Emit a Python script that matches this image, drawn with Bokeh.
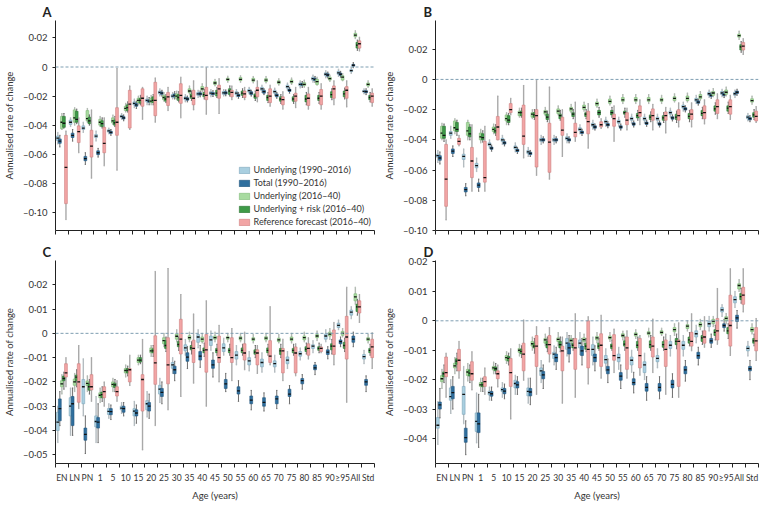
from bokeh.plotting import figure
from bokeh.layouts import column, row
from bokeh.models import (ColumnDataSource, Span, FixedTicker, CustomJSTickFormatter,
                          Legend, LegendItem, Range1d)
from bokeh.embed import file_html
from bokeh.resources import INLINE

FONT = "Lato"
FS = "9.5px"
XFS = "8.5px"

AGES = ["EN", "LN", "PN", "1", "5", "10", "15", "20", "25", "30", "35", "40", "45", "50",
        "55", "60", "65", "70", "75", "80", "85", "90", "\u226595", "All", "Std"]
SERIES = ["Underlying (1990\u20132016)", "Total (1990\u20132016)", "Underlying (2016\u201340)",
          "Underlying + risk (2016\u201340)", "Reference forecast (2016\u201340)"]

# each entry: (low whisker, Q1, median, Q3, high whisker), in units of 0.001
A_ul = [(-53,-50.5,-49,-47.5,-45),(-41,-39.5,-38,-36.5,-35),(-45,-43,-42,-40.5,-38),(-51,-48.5,-47.5,-46.5,-44),(-46,-44.8,-44,-43.2,-42),(-36,-34.8,-34,-33.2,-32),(-28,-26,-25,-24,-22),(-26,-24,-23,-22,-20),(-20,-18.5,-17.5,-16.5,-15),(-22,-20.8,-20,-19,-17.5),(-24,-22.5,-21.5,-20.5,-19),(-21,-19.5,-18.5,-17.5,-16),(-20.5,-19,-18,-17,-15.5),(-20,-18.8,-17.8,-16.8,-15.5),(-20.5,-19,-18,-17,-15.5),(-18.5,-17.3,-16.3,-15.3,-14),(-17.5,-16,-15,-14,-12.5),(-19.5,-18,-17,-16,-14.5),(-16,-14.5,-13.5,-12.5,-11),(-14.5,-13,-12,-11,-9.5),(-10.5,-9,-8,-7,-5.5),(-7.5,-6,-5,-4,-2.5),(-6.5,-5,-4,-3,-1.5),(-4.5,-3.2,-2.5,-1.8,-0.5),(-18.5,-17.3,-16.7,-16.1,-15)]
A_tot = [(-55,-52.5,-51,-49.5,-47),(-51,-48.5,-47,-45.5,-43),(-67,-64.5,-63,-61.5,-59),(-62,-60.3,-59,-57.7,-56),(-47,-45.8,-45,-44.2,-43),(-37,-35.8,-35,-34.2,-33),(-28.5,-27,-26,-25,-23.5),(-26,-24.3,-23.5,-22.7,-21),(-20,-18.8,-18,-17.2,-16),(-22,-20.5,-19.5,-18.5,-17),(-24,-22.8,-22,-21.2,-20),(-20.5,-19.3,-18.5,-17.7,-16.5),(-20.3,-19.1,-18.3,-17.5,-16.3),(-19.8,-18.6,-17.8,-17,-15.8),(-21.5,-20.3,-19.5,-18.7,-17.5),(-20,-19,-18,-17,-16),(-19,-18,-17,-16,-15),(-21.5,-20.5,-19.5,-18.5,-17.5),(-18,-16.8,-16,-15.2,-14),(-14,-12.8,-12,-11.2,-10),(-10.5,-9.3,-8.5,-7.7,-6.5),(-7.5,-6.3,-5.5,-4.7,-3.5),(-7,-5.8,-5,-4.2,-3),(-0.5,0.6,1.2,1.8,3),(-19,-17.7,-17,-16.3,-15)]
A_uf = [(-43,-42.5,-38,-34,-32),(-40,-38,-35,-29.5,-28),(-38,-37,-35.5,-30,-28.5),(-41,-40,-38,-36,-34),(-39.5,-38.5,-37,-35,-33),(-31,-30,-28.5,-27,-25),(-26,-24.5,-23,-21.5,-20),(-26,-24.5,-23.5,-21.5,-19.5),(-23.5,-22.5,-21,-19.5,-17.5),(-22.5,-21.5,-20,-18.5,-16.5),(-18.5,-17.5,-16.5,-15,-13),(-17,-15.8,-15,-13.5,-11.5),(-13,-12,-11,-10,-8.5),(-10.5,-9.3,-8.5,-7.7,-6.3),(-10.5,-9.3,-8.5,-7.3,-6),(-11,-9.8,-9,-7.8,-6.5),(-11,-10,-9,-8,-6.5),(-12.5,-11.5,-10.5,-9.5,-8),(-12,-11,-10,-9,-7.5),(-14,-12.8,-12,-10.8,-9),(-12.5,-12,-10,-8.5,-7),(-10,-9,-8,-7,-5.5),(-9.5,-9,-7,-6,-4.5),(19.5,20.8,22,23.2,25),(-14,-13,-12,-11,-9.5)]
A_ur = [(-42,-41.5,-38.7,-34,-32),(-39,-38,-36,-30.5,-29),(-40,-39,-37,-34.5,-33),(-42,-41,-39,-37,-35),(-41,-40,-38.5,-36.5,-34),(-31,-30,-28,-26,-24),(-26,-25,-23,-21.5,-19.5),(-26,-24.5,-23,-20.5,-19),(-24.5,-23.5,-22,-20.5,-19),(-24,-23,-21,-19,-17),(-23,-21.5,-20,-18.5,-16.5),(-22,-20.5,-19,-17.5,-15.5),(-21,-20,-18,-16,-14),(-20,-19,-16.5,-15,-13),(-21,-19.5,-18,-16.5,-15),(-23,-21.5,-20,-18.5,-16.5),(-24.5,-23,-21,-19.5,-17.5),(-25,-23.5,-22,-20.5,-19),(-25,-23.5,-22,-20.5,-19),(-26,-24,-22,-19.5,-17.5),(-25,-23,-21.5,-19.5,-17.5),(-22.5,-21,-19,-17,-15),(-22,-20.5,-18.5,-16.5,-14.5),(11.5,13,15,17,18.5),(-24,-22.5,-21,-19.5,-17.5)]
A_ref = [(-105,-94,-69,-47,-44),(-59,-52,-44.5,-40.5,-35),(-76.5,-62,-54.5,-43.5,-29.5),(-68,-59,-52.5,-41.5,-35),(-71,-47,-38,-28,-1),(-43,-42,-25.5,-16,-13),(-36,-27,-21.5,-15,-14),(-38,-33.5,-23,-10.5,-7.5),(-30,-26.5,-20.5,-17.5,-14),(-35,-25,-19.5,-11.5,-7),(-29.5,-26,-21.5,-16,-9.5),(-32.5,-22.5,-19.5,-14,-0.5),(-32,-21.5,-15,-12.5,-8),(-22.5,-20.5,-17.5,-16,-13),(-22.5,-21,-18.5,-16.5,-14),(-24,-20.5,-16,-14,-9.5),(-27,-24.5,-20,-15,-12.5),(-29,-26,-22.5,-20.5,-17),(-28,-23.5,-20,-18,-14),(-29,-26.5,-21.5,-18.5,-14),(-29,-26,-20,-15.5,-11.5),(-26,-21.5,-15,-13,-9.5),(-27.5,-21.5,-16,-13.5,-9.5),(11,13,16,18,20.5),(-27,-24.5,-20,-18,-15)]

B_ul = [(-55,-51.5,-50.5,-49.5,-47),(-39,-37,-35.5,-34.5,-31),(-58,-53,-51,-49.5,-46),(-61,-58.5,-57,-55.5,-52),(-45.5,-44,-43,-42,-40),(-43,-41,-40,-39,-37),(-48,-46,-45,-44,-42),(-51,-49,-48,-47,-45),(-43,-41,-40,-39,-37),(-43,-41,-40,-39,-37),(-42,-40,-39,-38,-36),(-36,-34,-33,-32,-30),(-33,-31,-30,-29,-27),(-31,-29,-28,-27,-25),(-31,-29,-28,-27,-25),(-29,-27,-26,-25,-23),(-29,-27,-26,-25,-23),(-29,-27,-26,-25,-23),(-25,-23,-22,-21,-19),(-21,-19,-18,-17,-15),(-16,-14.5,-13.5,-12.5,-10.5),(-12,-10.5,-9.5,-8.5,-7),(-11.5,-10,-9,-8,-6.5),(-12,-10.5,-9.5,-8.5,-7),(-27.5,-26,-25,-24,-22.5)]
B_tot = [(-56,-53.5,-52,-50.5,-48),(-51,-49,-47.5,-46,-44),(-77,-74.5,-73,-71.5,-69),(-74,-71.5,-70,-68.5,-66),(-47.5,-46.3,-45.5,-44.7,-43.5),(-44,-42.8,-42,-41.2,-40),(-49,-47.8,-47,-46.2,-45),(-51,-49.8,-49,-48.2,-47),(-42,-40.8,-40,-39.2,-38),(-42,-40.8,-40,-39.2,-38),(-42,-40.8,-40,-39.2,-38),(-37,-35.8,-35,-34.2,-33),(-33.5,-32.3,-31.5,-30.7,-29.5),(-32,-30.8,-30,-29.2,-28),(-33.5,-32.3,-31.5,-30.7,-29.5),(-31.5,-30.3,-29.5,-28.7,-27.5),(-31,-29.8,-29,-28.2,-27),(-31.5,-30.3,-29.5,-28.7,-27.5),(-27.5,-26.3,-25.5,-24.7,-23.5),(-21.5,-20.3,-19.5,-18.7,-17.5),(-17,-15.8,-15,-14.2,-13),(-12.5,-11.3,-10.5,-9.7,-8.5),(-12,-10.8,-10,-9.2,-8),(-10.5,-9.3,-8.5,-7.7,-6.5),(-28,-26.8,-26,-25.2,-24)]
B_uf = [(-40,-39,-35.5,-31,-29),(-36,-34,-32,-27.5,-26),(-40,-37,-34,-28.5,-27),(-42,-40,-38,-35.5,-33),(-36,-34.5,-33,-31.5,-29.5),(-30,-27.5,-26,-23.5,-22),(-25,-24,-22,-21,-19),(-26,-25,-23,-22,-20),(-24,-23,-21.5,-20.5,-18.5),(-23.5,-22.5,-21,-19.5,-17.5),(-22,-21,-19.5,-18.5,-16.5),(-21,-19.8,-18.5,-17,-15),(-18.5,-17.5,-16,-15,-13),(-17,-15.8,-14.5,-13,-11),(-16,-14.5,-13.5,-12,-10),(-16,-14.5,-13.5,-12,-10),(-16,-14.5,-13.5,-12,-10),(-16,-14.5,-13.5,-12.5,-10.5),(-15,-14,-12.5,-11.5,-9.5),(-15,-14,-12.5,-11,-9),(-14,-12.8,-11.5,-10,-8),(-11.5,-10.5,-9,-8,-6),(-11,-9.8,-8.5,-7,-5),(26.5,28,29,30,32),(-16.5,-15,-14,-12.8,-11)]
B_ur = [(-41,-39,-37,-31,-29.5),(-37,-34.5,-33,-28.5,-27),(-40,-38,-36,-31.5,-30),(-41.5,-40,-38.5,-36,-34),(-37,-35.5,-34,-32,-30),(-30,-28.5,-27,-24,-22.5),(-25,-24,-22,-21,-19),(-26.5,-25,-23.5,-22,-20),(-28,-26.5,-25,-23,-21),(-27,-26,-24,-23,-20.5),(-26,-24.5,-23,-22,-20),(-26,-24.5,-23,-22,-20),(-25,-23.5,-22,-20.5,-18.5),(-25,-23.5,-22,-20.5,-18.5),(-25,-23,-22,-21,-19),(-27,-25.5,-24,-22.5,-20.5),(-28,-26.5,-25,-23.5,-21.5),(-28.5,-27,-25.5,-24,-22),(-28.5,-26.5,-25,-23,-21),(-28,-26,-24.5,-22.5,-20.5),(-26,-24,-22.5,-20.5,-18.5),(-23,-21,-19.5,-17.5,-15.5),(-22.5,-21,-19,-17.5,-15),(18,19.5,21.5,23,25),(-26.5,-25,-23.5,-22,-20)]
B_ref = [(-93,-84,-66,-43,-40),(-44,-43,-41,-39,-37),(-74,-65,-54,-45,-30),(-74,-68,-65,-41,-31),(-40,-40,-31.5,-24.5,-11),(-23.5,-22,-20,-16,-12.5),(-52,-43,-37.5,-17,-4),(-63.5,-58,-24,-20,-0.5),(-66,-61.5,-41.5,-29,-5),(-51,-37,-33.5,-25,-20),(-41,-38,-35,-29,-15),(-45.5,-36,-28,-21,-16),(-32.5,-31.5,-30,-28,-26),(-41,-31,-26,-23,-17.5),(-33.5,-30,-27,-22,-19),(-30,-24.5,-22,-17.5,-13.5),(-33.5,-27,-24,-19.5,-16.5),(-35.5,-27,-24,-21.5,-18.5),(-31.5,-27,-24,-20,-15.5),(-31.5,-26.5,-23,-20,-15.5),(-29.5,-26,-22,-17.5,-13.5),(-26,-22.5,-18,-13.5,-9.5),(-26.5,-23,-18,-13.5,-10.5),(16.5,19.5,22,24.5,27),(-28.5,-27.5,-24.5,-21,-18)]

C_ul = [(-45,-40,-36.6,-32.5,-30),(-42,-34,-30,-26.5,-22.5),(-34,-29,-22,-19,-10.5),(-45,-38.5,-36.3,-34,-26),(-35,-33.4,-32.1,-31,-29),(-33,-31.5,-30.8,-30,-28.5),(-38,-34,-32,-31,-28),(-34.5,-31.5,-29,-27.7,-24),(-28.5,-25,-23,-21.4,-18.5),(-16.5,-14.4,-13,-12,-10),(-9,-7.2,-6,-4.7,-2.5),(-6,-3.7,-1.5,-0.5,1.5),(-7,-5,-2.7,-1.1,1),(-9,-7.5,-6,-4.3,-2),(-13,-10.6,-9,-7.5,-5),(-15.5,-13,-11.3,-10,-7.5),(-16,-13.8,-12,-10.6,-8),(-16,-13.8,-12.5,-11.3,-9),(-14.5,-12.5,-11,-9.7,-7.5),(-11,-9.4,-8.4,-7.5,-6),(-8,-6.2,-5.3,-4.7,-3),(-3.5,-2.4,-1.1,-0.3,1.5),(1.5,2.4,3.3,4.2,5.5),(6,7.5,8.7,9.6,11),(-12.5,-10.6,-9.6,-8.7,-7)]
C_tot = [(-38,-36,-31,-27,-24),(-42,-38,-29,-26,-22.5),(-49.5,-44,-41.6,-39,-34),(-45,-39,-36.6,-34.7,-29),(-35.5,-33.5,-32.2,-31,-29.5),(-34,-32.5,-31,-30,-28.5),(-37,-34,-32.8,-31.5,-29.5),(-35,-32,-30,-28.5,-25),(-29,-26,-24.3,-22.7,-20),(-19.5,-16.6,-15,-13.5,-11.5),(-14.5,-11.5,-9.8,-8,-5.5),(-14,-11,-9.4,-7.5,-5),(-18,-14.4,-13,-11,-8),(-24,-22.7,-20.8,-19,-16.5),(-28,-25,-23.7,-22,-19.5),(-31.5,-29,-27.5,-25.8,-23.5),(-32,-30,-28.4,-26.5,-24.5),(-31,-29,-27,-25.8,-23.5),(-29,-26,-25,-23,-21.5),(-23,-20.8,-19.5,-18.6,-17),(-17,-15,-14.2,-13,-12),(-10.5,-8.7,-7.7,-6.8,-5.5),(-5.5,-4.3,-3.4,-2.7,-1.5),(-5.5,-3.7,-2.4,-1.1,0.5),(-24,-21.4,-20,-19,-17.5)]
C_uf = [(-25,-22,-20.8,-19.5,-17),(-24,-21.4,-20,-18.8,-16.5),(-24,-21.5,-20.6,-19.6,-17.5),(-28.5,-26.5,-25.5,-24.5,-22.5),(-24,-22,-21,-20,-18.5),(-18,-16.3,-15.3,-14.5,-13),(-13,-12,-11,-10,-9),(-9.5,-8,-7.2,-6,-5),(-5.5,-4.3,-3,-1.8,0),(-3.5,-2.4,-1.2,-0.3,1.5),(-3.5,-2.4,-1.8,-1,0.5),(-4,-3.4,-2.4,-1.5,0),(-3.5,-2.4,-1.8,-1.1,0.5),(-3.5,-2.4,-1.8,-1.4,0),(-3.5,-2.7,-2,-1.4,0),(-4,-3,-2.4,-1.8,-0.5),(-3.5,-2.7,-2,-1.4,0),(-4,-3.4,-2.7,-2,-0.5),(-4,-3,-2.4,-1.5,0),(-3.5,-2.7,-1.8,-1.1,0.5),(-3,-1.8,-1.1,-0.5,1),(-2.5,-1.1,-0.3,0.5,2),(-1.5,-0.8,0,0.8,2),(12,13.4,15,16.3,19),(-4,-3,-2.4,-1.8,-0.5)]
C_ur = [(-23,-19.5,-18.6,-17.6,-16),(-22,-19.5,-18,-17.2,-15),(-25,-23.4,-22,-20.8,-19),(-28,-26.5,-25.2,-24.2,-22),(-24,-22.3,-21.2,-20.5,-19),(-17.5,-16.3,-15.3,-14.5,-13.5),(-12.5,-11.8,-11,-10,-9),(-9.5,-8,-7.2,-6.4,-5),(-7.5,-6.2,-5,-3,-1.5),(-7,-5.5,-4.6,-3.4,-1.5),(-8.5,-6.8,-6,-5,-3.5),(-9.5,-8,-7,-6,-4),(-9,-8,-7,-6.2,-4.5),(-9,-8,-7,-6.2,-4.5),(-9,-8,-7,-6,-4.5),(-10,-8.6,-7.7,-6.8,-5),(-9,-8,-7,-6,-4.5),(-10,-8.7,-7.2,-6.2,-4.5),(-9,-8,-7,-6.2,-4.5),(-8.5,-7.5,-6.5,-5.5,-4),(-8,-7,-6.2,-5.5,-4),(-8.5,-6.8,-5.3,-4.3,-2.5),(-7.5,-6.2,-5,-3.7,-2),(7.5,9,10.9,12,14),(-9,-8,-7,-6.2,-4.5)]
C_ref = [(-22,-18,-16.3,-12.5,-10),(-31,-28.4,-20,-12.5,-5),(-28,-23.3,-22,-17,-10),(-30,-26.5,-24,-22,-20),(-28,-25.8,-24,-22,-19.5),(-21.5,-20,-15,-14.5,-9),(-48,-32,-19,-17,-2.5),(-38,-21,-12.2,-1,25.5),(-31.5,-20.8,-13,-1.8,26.7),(-26,-8.5,-2.4,5.8,16),(-20.5,-12,-6.2,-2.8,8),(-30,-16,-6.8,-0.5,13.4),(-20,-12,-10,-1.1,3.3),(-19.5,-12,-10,-1.8,2),(-15,-11,-8.1,-4.3,0.5),(-16.5,-13,-8.1,-6.8,-5),(-13,-12,-9.4,-3,11),(-19.5,-16.3,-7.2,-6.2,-2.4),(-17.5,-16.3,-8.1,-5.6,-4.3),(-10.6,-9,-6.2,-4.3,-1.8),(-8,-7.5,-6.2,-5.6,-4.5),(-13,-8.7,-5.3,1.4,4.5),(-28.4,-10.6,-1.5,7,19),(4.5,8.4,10.9,13.4,16),(-14.5,-10,-5.6,-2.4,0.2)]

D_ul = [(-42,-36.5,-35.5,-32.9,-27.5),(-31.5,-27,-25.8,-22.8,-20),(-35,-31.8,-25,-22.3,-15.5),(-41.5,-37.6,-34.2,-31.3,-24.5),(-27,-25.2,-24.4,-23.9,-22.5),(-26,-24,-23.4,-22.8,-21),(-25,-22.8,-21.3,-20.2,-18.5),(-28,-25.5,-24,-22.8,-19.5),(-21,-18.6,-17,-16,-13.5),(-15,-12.8,-11.3,-10.7,-8.5),(-12,-9.7,-7.6,-6,-4),(-11.5,-9.2,-7.6,-6.5,-4),(-15,-11.8,-9.7,-8.1,-5.5),(-17,-14.4,-13.2,-11.8,-9.5),(-16.5,-13.9,-12.5,-11.3,-9),(-17.5,-15,-13.4,-12.3,-10),(-20,-17.6,-15,-13.9,-11),(-16,-13.9,-12.8,-11.8,-9.5),(-12,-9.4,-8.3,-7,-5),(-12,-9.7,-8.3,-7,-5),(-7.5,-5.5,-4.4,-3.4,-1.5),(-3.5,-2,-1,-0.2,1.5),(1.5,3,3.7,4.5,5.5),(4.5,6.1,7.2,8.2,10),(-12,-10.2,-9.4,-8.6,-7)]
D_tot = [(-33,-30,-28.6,-27.6,-23),(-30,-26.5,-24.4,-22.3,-19),(-45.5,-41.3,-39.7,-36.5,-34),(-43,-38,-35,-31.3,-25),(-27,-25.6,-24.8,-24,-22.5),(-26.5,-24.8,-23.9,-23,-21.5),(-25,-22.8,-21.8,-20.7,-19),(-28.5,-25.5,-24.2,-23,-19.5),(-23,-19.7,-18.4,-17.2,-15),(-16.5,-13.9,-12.5,-11.3,-9),(-14,-11.3,-9.2,-7.6,-5),(-15,-11.8,-10.2,-8.6,-6),(-17,-13.9,-12.5,-11.3,-8.5),(-21,-18,-16.7,-15.5,-13),(-23,-20.2,-18.8,-17.6,-15),(-24.5,-21.8,-21,-19.7,-17.5),(-27,-23.9,-22.6,-21.3,-19),(-26.5,-23.9,-22.6,-21.3,-19),(-26,-22.8,-21.6,-20.2,-18),(-20.5,-18,-16.7,-15.5,-13.5),(-15,-12.8,-11.8,-10.7,-9),(-9,-7.6,-6.8,-6,-4.5),(-3.5,-2.3,-1.6,-1,0.5),(-2.5,-0.2,1,1.9,3.5),(-20,-17,-16.3,-15.5,-13.5)]
D_uf = [(-23,-20.7,-19.7,-18.6,-16.5),(-18,-16,-15.3,-14.4,-12.5),(-20.5,-18.6,-17.4,-16.5,-14.5),(-24,-22.3,-21.8,-21,-19.5),(-18,-16.7,-16,-15.5,-14),(-14.5,-13.4,-12.5,-11.8,-10.5),(-12,-10.7,-10,-9.4,-8),(-10,-8.6,-7.8,-7,-5.5),(-8.5,-7.6,-6.5,-6,-4.5),(-8.5,-7,-6.3,-5.8,-4),(-8,-7.2,-6.7,-6.1,-5),(-8,-7,-6.4,-5.8,-4.5),(-7.5,-6.5,-5.8,-5.3,-4),(-7,-6.2,-5.7,-5.2,-4),(-6.5,-5.5,-5,-4.4,-3.5),(-6,-5.2,-4.6,-4.1,-3),(-5.5,-4.7,-4.2,-3.7,-2.5),(-5,-4.4,-3.9,-3.4,-2.5),(-5,-3.7,-3,-2.3,-1),(-3.5,-2.6,-1.8,-1.3,0),(-3,-2,-1.3,-0.7,0.5),(-2,-1,-0.2,0.5,1.5),(-1,0,0.8,1.4,2.5),(10,10.8,12,12.6,14),(-4.5,-3.7,-3,-2.3,-1)]
D_ur = [(-21,-19,-18,-17.4,-15),(-17,-14.8,-13.7,-12.9,-11),(-21,-18.8,-17.8,-16.7,-15),(-24,-22.4,-21.8,-21,-19.5),(-18,-17,-16.3,-15.7,-14.5),(-15,-13.7,-12.8,-12.1,-11),(-12.5,-11.2,-10.4,-9.7,-8.5),(-11,-9.2,-8.6,-7.6,-6),(-10.5,-9.2,-8.1,-7,-5.5),(-10.5,-9.2,-8.1,-7,-5.5),(-10,-9.2,-8.3,-7.6,-6),(-10.5,-9.7,-8.6,-7.6,-6),(-10,-9.4,-8.6,-7.6,-6),(-10,-9.4,-8.6,-7.9,-6.5),(-10,-8.6,-7.9,-6.8,-5.5),(-10,-9.2,-8.3,-7,-5.5),(-10,-9.2,-8.1,-6.8,-5),(-10,-9,-8.1,-7,-5.5),(-9.5,-8.1,-7,-6,-4.5),(-8.5,-7.6,-6.5,-5.5,-4),(-8,-7,-5.8,-5,-3.5),(-6.5,-5,-3.9,-3,-1.5),(-6,-4.4,-3.4,-2.3,-1),(6,7.2,8.2,9.3,11),(-8.5,-7.6,-6.8,-6,-4.5)]
D_ref = [(-26,-19,-17.6,-12.3,-11),(-19.5,-17,-13.4,-9.7,-7),(-23.5,-20.2,-18,-13.9,-10.5),(-25,-22.3,-20.7,-19,-16),(-22.5,-19.7,-18,-17,-15),(-33.4,-22.3,-17.6,-12.8,-9.5),(-20.2,-17,-11.3,-7.6,0.3),(-25,-15.5,-8.6,-5,-2),(-14,-11.3,-8.1,-5,-2.3),(-28,-17,-10.2,-8.6,-5.5),(-26,-16.5,-9.2,-6,2.4),(-21.5,-16,-9.7,0,1.4),(-19.5,-15.5,-8.3,-4.4,1.9),(-17.6,-13.4,-11.8,-4.7,-2.8),(-19.5,-16.5,-9.2,-5.5,-3.4),(-18.5,-16,-11.8,-6,-5),(-17.6,-12.3,-8.6,-5.5,0.6),(-25,-15.5,-9.7,-6.5,-4.5),(-26,-22.3,-7,-6.5,-0.7),(-10.2,-8.6,-7,-3.9,2.4),(-9,-7.6,-5.5,-3.4,1.4),(-8,-6.5,-3.4,0.8,11),(-11.8,-8.6,-1.6,8.7,17.7),(3,5.6,8.7,11.4,17.7),(-13.5,-10.2,-6.8,-2.3,0.8)]

A_YTICKS = [-0.10, -0.08, -0.06, -0.04, -0.02, 0, 0.02]
B_YTICKS = [-0.10, -0.08, -0.06, -0.04, -0.02, 0, 0.02]
C_YTICKS = [-0.05, -0.04, -0.03, -0.02, -0.01, 0, 0.01, 0.02]
D_YTICKS = [-0.04, -0.03, -0.02, -0.01, 0, 0.01, 0.02]

FILLS = ["#a9cfe0", "#2f6f9e", "#a8dba0", "#3e9a47", "#f2a5a5"]
EDGES = ["#7ea6ba", "#21557d", "#7fb877", "#2b7434", "#cf7f7f"]
WHISK = ["#b4bcc0", "#6e6e6e", "#b2bab2", "#6e6e6e", "#a9a9a9"]
WHISK_W = [1.4, 1.0, 1.4, 1.0, 1.4]
OFFS = [-0.32, -0.16, 0.0, 0.16, 0.32]
BW = 0.22
CAP = 0.10

fmt = CustomJSTickFormatter(code="""
if (Math.abs(tick) < 1e-9) { return '0'; }
var s = Math.abs(tick).toFixed(2).replace('.', '\\u00b7');
return (tick < 0 ? '\\u2013' : '') + s;
""")


def panel(letter, series_list, yr, yticks, width, height, bl, br, bt, bb,
          show_x, legend=False, title_off=-12):
    p = figure(width=width, height=height, output_backend="svg", toolbar_location=None,
               x_range=Range1d(0, 25), y_range=Range1d(*yr),
               min_border_left=bl, min_border_right=br, min_border_top=bt,
               min_border_bottom=bb)
    p.outline_line_color = None
    p.xgrid.visible = False
    p.ygrid.visible = False
    p.background_fill_color = None
    p.border_fill_color = None
    p.title.text = letter
    p.title.text_font = FONT
    p.title.text_font_size = "13px"
    p.title.text_font_style = "bold"
    p.title.align = "left"
    p.title.offset = title_off
    p.title.standoff = 2
    p.title.text_color = "#222222"

    p.add_layout(Span(location=0, dimension="width", line_color="#7f9fb2",
                      line_dash="3 2", line_width=1))

    items = []
    for k, data in enumerate(series_list):
        rows = [sorted(t) for t in data]
        xs = [i + 0.5 + OFFS[k] for i in range(len(rows))]
        src = ColumnDataSource(dict(
            x=xs,
            x0=[x - BW / 2 for x in xs],
            x1=[x + BW / 2 for x in xs],
            c0=[x - CAP / 2 for x in xs],
            c1=[x + CAP / 2 for x in xs],
            lo=[r[0] / 1000 for r in rows],
            q1=[r[1] / 1000 for r in rows],
            med=[r[2] / 1000 for r in rows],
            q3=[r[3] / 1000 for r in rows],
            hi=[r[4] / 1000 for r in rows],
        ))
        p.segment(x0="x", y0="lo", x1="x", y1="hi", source=src,
                  line_color=WHISK[k], line_width=WHISK_W[k])
        p.segment(x0="c0", y0="lo", x1="c1", y1="lo", source=src,
                  line_color=WHISK[k], line_width=1)
        p.segment(x0="c0", y0="hi", x1="c1", y1="hi", source=src,
                  line_color=WHISK[k], line_width=1)
        r = p.vbar(x="x", width=BW, bottom="q1", top="q3", source=src,
                   fill_color=FILLS[k], line_color=EDGES[k], line_width=0.6)
        p.segment(x0="x0", y0="med", x1="x1", y1="med", source=src,
                  line_color="#111111", line_width=1.3)
        items.append(LegendItem(label=SERIES[k], renderers=[r]))

    ya = p.yaxis[0]
    ya.ticker = FixedTicker(ticks=yticks)
    ya.formatter = fmt
    ya.axis_label = "Annualised rate of change"
    ya.axis_label_text_font = FONT
    ya.axis_label_text_font_size = FS
    ya.axis_label_text_font_style = "normal"
    ya.axis_label_text_color = "#333333"
    ya.axis_label_standoff = 5
    ya.major_label_text_font = FONT
    ya.major_label_text_font_size = FS
    ya.major_label_text_color = "#333333"
    ya.major_tick_out = 3
    ya.major_tick_in = 0
    ya.minor_tick_out = 0
    ya.minor_tick_in = 0
    ya.axis_line_color = "#222222"
    ya.major_tick_line_color = "#222222"

    xa = p.xaxis[0]
    centers = [i + 0.5 for i in range(len(AGES))]
    xa.ticker = FixedTicker(ticks=centers, minor_ticks=list(range(len(AGES) + 1)))
    xa.major_tick_out = 0
    xa.major_tick_in = 0
    xa.minor_tick_out = 4
    xa.minor_tick_in = 0
    xa.axis_line_color = "#222222"
    xa.minor_tick_line_color = "#222222"
    xa.major_label_text_font = FONT
    xa.major_label_text_font_size = XFS
    xa.major_label_text_color = "#333333"
    xa.major_label_standoff = 5
    if show_x:
        xa.major_label_overrides = {c: a for c, a in zip(centers, AGES)}
        xa.axis_label = "Age (years)"
        xa.axis_label_text_font = FONT
        xa.axis_label_text_font_size = FS
        xa.axis_label_text_font_style = "normal"
        xa.axis_label_text_color = "#333333"
        xa.axis_label_standoff = 4
    else:
        xa.major_label_overrides = {c: "" for c in centers}
        xa.major_label_text_font_size = "0px"

    if legend:
        leg = Legend(items=items, location="bottom_right")
        leg.label_text_font = FONT
        leg.label_text_font_size = "9px"
        leg.label_text_color = "#333333"
        leg.glyph_width = 13
        leg.glyph_height = 8
        leg.label_height = 9
        leg.label_standoff = 3
        leg.spacing = 2
        leg.padding = 1
        leg.margin = 2
        leg.background_fill_alpha = 0
        leg.border_line_alpha = 0
        p.add_layout(leg)
    return p


pA = panel("A", [A_ul, A_tot, A_uf, A_ur, A_ref], (-0.1125, 0.032), A_YTICKS,
           380, 240, 42, 6, 12, 10, False, legend=True, title_off=-13)
pB = panel("B", [B_ul, B_tot, B_uf, B_ur, B_ref], (-0.100, 0.039), B_YTICKS,
           380, 240, 50, 2, 12, 10, False, title_off=-12)
pC = panel("C", [C_ul, C_tot, C_uf, C_ur, C_ref], (-0.0536, 0.030), C_YTICKS,
           380, 263, 42, 6, 18, 30, True, title_off=-13)
pD = panel("D", [D_ul, D_tot, D_uf, D_ur, D_ref], (-0.0485, 0.0205), D_YTICKS,
           380, 263, 50, 2, 18, 30, True, title_off=-12)

layout = column(row(pA, pB), row(pC, pD))
open("out.html", "w").write(file_html(layout, INLINE))
